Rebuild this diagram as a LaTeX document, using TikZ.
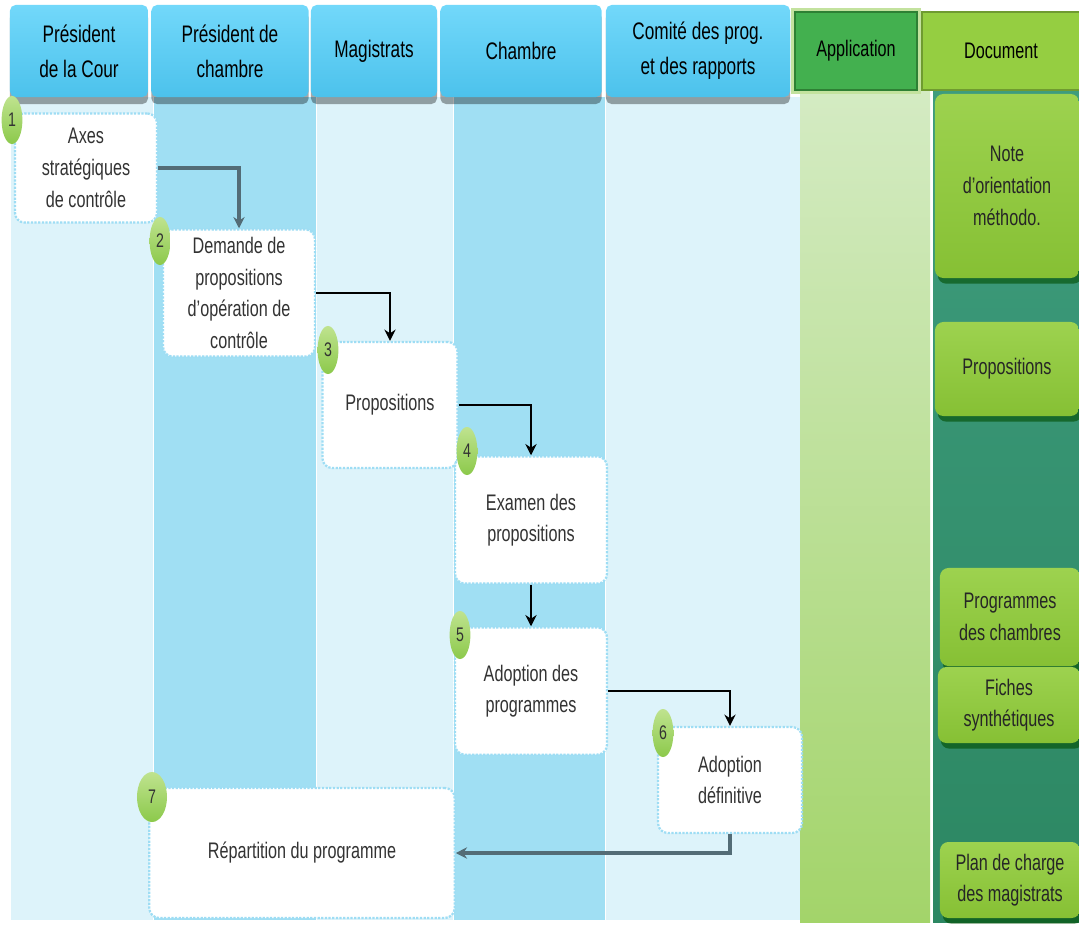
\documentclass[tikz,border=0pt]{standalone}
\usepackage{fontspec}
\setmainfont{Liberation Sans}[FakeStretch=0.72]
\usetikzlibrary{arrows.meta,shapes.geometric,shadows}

\definecolor{headtop}{HTML}{72D8FA}
\definecolor{headbot}{HTML}{4CC2EC}
\definecolor{lanelight}{HTML}{DDF3FA}
\definecolor{lanemid}{HTML}{A0DFF3}
\definecolor{boxedge}{HTML}{9EDDF4}
\definecolor{apptop}{HTML}{D4EBC3}
\definecolor{appbot}{HTML}{A3D46A}
\definecolor{appgreen}{HTML}{43B04F}
\definecolor{appdark}{HTML}{2E8034}
\definecolor{appedge}{HTML}{C3E29E}
\definecolor{doctop}{HTML}{3E9C7D}
\definecolor{docbot}{HTML}{2C8762}
\definecolor{dochead}{HTML}{95CE41}
\definecolor{docdark}{HTML}{6F9B30}
\definecolor{greentop}{HTML}{9DD24F}
\definecolor{greenbot}{HTML}{86C034}
\definecolor{badgetop}{HTML}{BFE38F}
\definecolor{badgebot}{HTML}{8CC94B}
\definecolor{flowgrey}{HTML}{536C76}

\begin{document}
\begin{tikzpicture}[x=0.025cm,y=-0.025cm]
    \tikzstyle{head}=[rounded corners=4pt,top color=headtop,bottom color=headbot,align=center,
      minimum height=2.3cm,text=black,font=\fontsize{17}{25}\selectfont,
      drop shadow={shadow xshift=0pt,shadow yshift=-5pt,fill=black,opacity=.35}];
    \tikzstyle{task}=[draw=boxedge,densely dotted,line width=1.6pt,fill=white,rounded corners=7pt,
      align=center,text=black!80,font=\fontsize{16}{22.5}\selectfont];
    \tikzstyle{badge}=[ellipse,inner sep=0pt,top color=badgetop,bottom color=badgebot,
      minimum width=0.52cm,minimum height=1.2cm,text=black!80,font=\fontsize{14}{14}\selectfont];
    \tikzstyle{doc}=[rounded corners=6pt,top color=greentop,bottom color=greenbot,align=center,
      minimum width=3.6cm,text=black!85,font=\fontsize{16}{22.5}\selectfont,
      drop shadow={shadow xshift=2pt,shadow yshift=-4pt,fill=black!70!green,opacity=.6}];
    \tikzstyle{flow}=[-{Stealth[length=8pt,width=8pt]},line width=2pt,black];
    \tikzstyle{bigflow}=[flow,line width=3.2pt,flowgrey];

    \useasboundingbox (0,0) rectangle (1079,928);

    % lanes
    \fill[lanelight] (11,97) rectangle (153,920);
    \fill[lanemid] (153,97) rectangle (316,920);
    \fill[lanelight] (316,97) rectangle (453,920);
    \fill[lanemid] (453,97) rectangle (605,920);
    \fill[lanelight] (605,97) rectangle (800,920);
    \shade[top color=apptop,bottom color=appbot] (800,90) rectangle (930,922);
    \shade[top color=doctop,bottom color=docbot] (933,90) rectangle (1079,922);
    \foreach \xs in {153,316,453,605}
      \draw[white,line width=0.7pt] (\xs,97) -- (\xs,920);

    % headers
    \node at (79,51)   (hcour) [head,minimum width=3.45cm] {Président\\de la Cour};
    \node at (230,51)  (hpch)  [head,minimum width=3.93cm] {Président de\\chambre};
    \node at (374,51)  (hmag)  [head,minimum width=3.15cm] {Magistrats};
    \node at (521,51)  (hch)   [head,minimum width=4.03cm] {Chambre};
    \node at (698,51)  (hcom)  [head,minimum width=4.6cm] {Comité des prog.\\et des rapports};
    \fill[appedge] (791,8) rectangle (921,94);
    \node at (856,51)  (happ)  [draw=appdark,line width=2pt,fill=appgreen,minimum width=3.05cm,
      minimum height=1.95cm,text=black,font=\fontsize{16}{22}\selectfont] {Application};
    \node at (1001,51) (hdoc)  [draw=docdark,line width=2pt,fill=dochead,minimum width=3.95cm,
      minimum height=1.95cm,text=black,font=\fontsize{16}{22}\selectfont] {Document};

    % tasks
    \node at (86,168)  (axes) [task,minimum width=3.55cm,minimum height=2.73cm] {Axes\\stratégiques\\de contrôle};
    \node at (239,293) (dem)  [task,minimum width=3.8cm,minimum height=3.18cm] {Demande de\\propositions\\d'opération de\\contrôle};
    \node at (390,405) (prop) [task,minimum width=3.38cm,minimum height=3.15cm] {Propositions};
    \node at (531,520) (exam) [task,minimum width=3.8cm,minimum height=3.18cm] {Examen des\\propositions};
    \node at (531,691) (adop) [task,minimum width=3.8cm,minimum height=3.18cm] {Adoption des\\programmes};
    \node at (730,780) (adef) [task,minimum width=3.6cm,minimum height=2.65cm] {Adoption\\définitive};
    \node at (302,853) (rep)  [task,minimum width=7.63cm,minimum height=3.25cm] {Répartition du programme};

    % step numbers
    \node at (12,120)  (b1) [badge] {1};
    \node at (160,241) (b2) [badge] {2};
    \node at (328,350) (b3) [badge] {3};
    \node at (467,451) (b4) [badge] {4};
    \node at (460,635) (b5) [badge] {5};
    \node at (663,733) (b6) [badge] {6};
    \node at (152,797) (b7) [badge,minimum width=0.75cm,minimum height=1.25cm] {7};

    % documents
    \node at (1007,186) (dnote) [doc,minimum height=4.6cm] {Note\\d'orientation\\méthodo.};
    \node at (1007,369) (dprop) [doc,minimum height=2.35cm] {Propositions};
    \node at (1010,617) (dprog) [doc,minimum width=3.5cm,minimum height=2.45cm] {Programmes\\des chambres};
    \node at (1009,705) (dfich) [doc,minimum width=3.55cm,minimum height=1.9cm] {Fiches\\synthétiques};
    \node at (1010,880) (dplan) [doc,minimum width=3.5cm,minimum height=1.9cm] {Plan de charge\\des magistrats};

    % flow
    \draw[bigflow] (axes.east) -| (dem.north);
    \draw[flow] (dem.east) -| (prop.north);
    \draw[flow] (prop.east) -| (exam.north);
    \draw[flow] (exam.south) -- (adop.north);
    \draw[flow] (adop.east) -| (adef.north);
    \draw[bigflow] (adef.south) |- (rep.east);
\end{tikzpicture}
\end{document}
